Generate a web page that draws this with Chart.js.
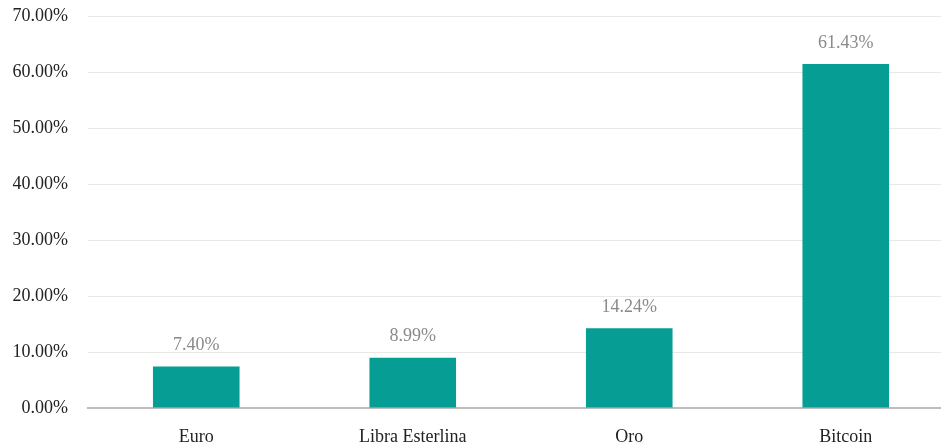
<!DOCTYPE html>
<html>
<head>
<meta charset="utf-8">
<script src="https://cdn.jsdelivr.net/npm/chart.js@4"></script>
<style>
  html, body { margin: 0; padding: 0; background: #fff; }
  #wrap { width: 941px; height: 446px; position: relative; }
</style>
</head>
<body>
<div id="wrap"><canvas id="chart"></canvas></div>
<script>
// Datos del gráfico
const categorias = ['Euro', 'Libra Esterlina', 'Oro', 'Bitcoin'];
const valores = [7.40, 8.99, 14.24, 61.43];
const ticksY = [0, 10, 20, 30, 40, 50, 60, 70];

const FUENTE = '"Liberation Serif", "Times New Roman", serif';
const EXTRA_DERECHA = 13;  // el gráfico original sigue un poco más allá del borde

// Plugin simple para escribir el valor encima de cada barra
const etiquetas = {
    id: 'etiquetas',
    afterLayout(chart) {
        // estirar el eje x por la derecha, fuera del lienzo
        const x = chart.scales.x;
        x.right += EXTRA_DERECHA;
        x.width += EXTRA_DERECHA;
        x.configure();
    },
    afterDatasetsDraw(chart) {
        const ctx = chart.ctx;
        const meta = chart.getDatasetMeta(0);
        ctx.save();
        ctx.font = '18px ' + FUENTE;
        ctx.fillStyle = '#8a8a8a';
        ctx.textAlign = 'center';
        ctx.textBaseline = 'middle';
        meta.data.forEach((bar, i) => {
            ctx.fillText(valores[i].toFixed(2) + '%', bar.x, bar.y - 21);
        });
        ctx.restore();
    }
};

new Chart(document.getElementById('chart'), {
    type: 'bar',
    data: {
        labels: categorias,
        datasets: [{
            data: valores,
            backgroundColor: '#069e94',
            borderWidth: 0,
            barPercentage: 0.5,
            categoryPercentage: 0.8
        }]
    },
    options: {
        responsive: true,
        maintainAspectRatio: false,
        animation: false,
        layout: { padding: { left: 13, top: 16, right: 0, bottom: 0 } },
        plugins: {
            legend: { display: false },
            tooltip: { enabled: false }
        },
        scales: {
            x: {
                // alto fijo del eje para que el área llegue a y≈408
                afterFit(scale) {
                    scale.height = 38;
                    scale.paddingLeft = 0;
                    scale.paddingRight = 0;
                },
                grid: { display: false, drawTicks: false },
                border: { color: '#bdbdbd', width: 2 },
                ticks: {
                    color: '#222',
                    padding: 18,
                    font: { family: FUENTE, size: 18 }
                }
            },
            y: {
                min: 0,
                max: 70,
                afterBuildTicks(scale) {
                    scale.ticks = ticksY.map(v => ({ value: v }));
                },
                // ancho fijo y sin padding vertical extra
                afterFit(scale) {
                    scale.width = 75;
                    scale.paddingTop = 0;
                    scale.paddingBottom = 0;
                },
                grid: { color: '#e8e8e8', drawTicks: false },
                border: { display: false },
                ticks: {
                    color: '#222',
                    padding: 20,
                    font: { family: FUENTE, size: 18 },
                    callback: v => v.toFixed(2) + '%'
                }
            }
        }
    },
    plugins: [etiquetas]
});
</script>
</body>
</html>
